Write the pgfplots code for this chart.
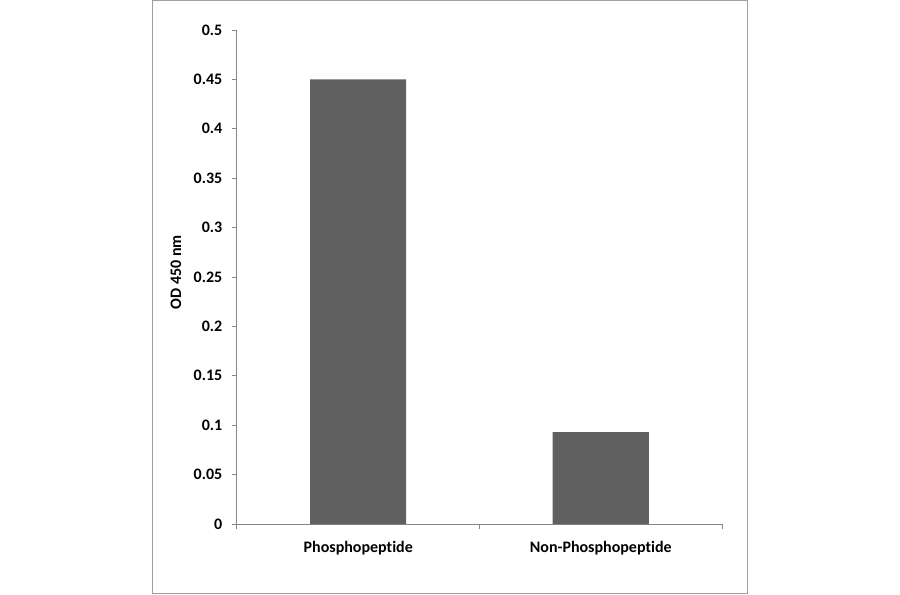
\documentclass[border=0pt]{standalone}
\usepackage{pgfplots}
\pgfplotsset{compat=1.18}
\usepackage{fontspec}
\setmainfont{Carlito}[Ligatures={NoCommon}]
\definecolor{barfill}{RGB}{96,96,96}
\definecolor{axisgray}{RGB}{134,134,134}
\definecolor{framegray}{RGB}{160,160,160}
\begin{document}
\begin{tikzpicture}
  \useasboundingbox (-177.75pt,-52.5pt) rectangle (497.25pt,393pt);
  \draw[framegray, line width=0.75pt] (-63pt,-51.75pt) rectangle (382.5pt,392.4pt);
  \begin{axis}[
    at={(0pt,0pt)}, anchor=south west,
    scale only axis,
    width=363.75pt, height=370.5pt,
    xmin=0, xmax=2, ymin=0, ymax=0.5,
    axis lines*=left,
    axis line style={axisgray, line width=0.75pt, -},
    every tick/.style={axisgray, line width=0.75pt},
    tick align=outside,
    major tick length=3.75pt,
    xtick={0,1,2},
    xticklabels={Phosphopeptide,Non-Phosphopeptide},
    x tick label as interval,
    ytick={0,0.05,0.1,0.15,0.2,0.25,0.3,0.35,0.4,0.45,0.5},
    yticklabels={0,0.05,0.1,0.15,0.2,0.25,0.3,0.35,0.4,0.45,0.5},
    tick label style={font=\fontsize{12}{14}\selectfont\bfseries, text=black},
    yticklabel style={xshift=-3.75pt},
    xticklabel style={yshift=-6pt},
    ylabel={OD 450 nm},
    ylabel style={at={(axis description cs:-0.1258,0.51)}, anchor=center,
      font=\fontsize{12}{14}\selectfont\bfseries},
    ybar, bar width=72pt,
  ]
  \addplot[fill=barfill, draw=none] coordinates { (0.5,0.45) (1.5,0.093) };
  \end{axis}
\end{tikzpicture}
\end{document}
